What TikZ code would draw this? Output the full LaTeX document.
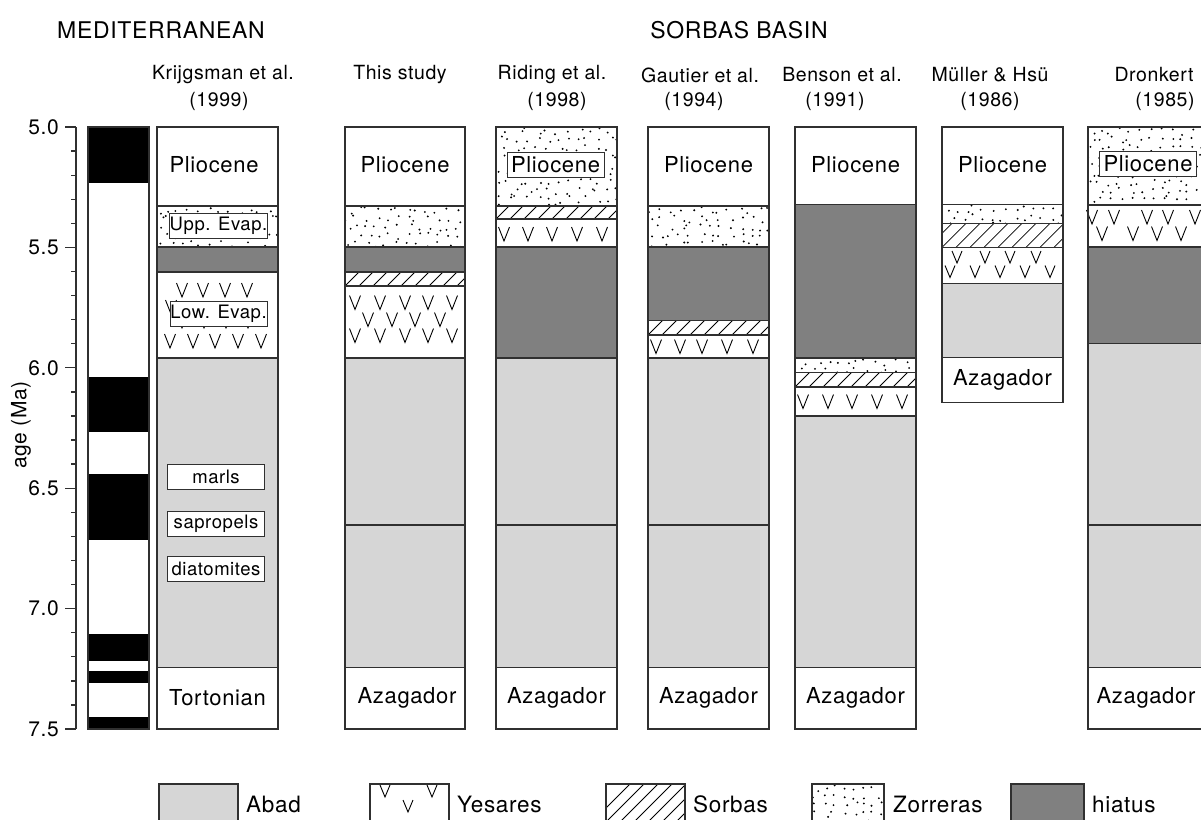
\documentclass[tikz,border=0pt]{standalone}
\usepackage{fontspec}
\setmainfont{TeX Gyre Heros}[LetterSpace=3]
\definecolor{abadc}{HTML}{D6D6D6}
\definecolor{hiatc}{HTML}{808080}
\definecolor{edgec}{HTML}{303030}
\tikzset{
  edge/.style={draw=edgec, line width=1.3pt},
  hatchline/.style={draw=black, line width=0.8pt},
  vline/.style={draw=black, line width=0.9pt, line join=miter},
  lab/.style={font=\fontsize{22}{24}\selectfont, inner sep=0pt},
  head/.style={font=\fontsize{19.5}{22}\selectfont, inner sep=0pt},
  titl/.style={font=\fontsize{23}{26}\selectfont, inner sep=0pt},
  blab/.style={draw=edgec, fill=white, line width=0.9pt, minimum width=97pt, minimum height=25pt, inner sep=0pt, font=\fontsize{18.5}{20}\selectfont},
  plab/.style={draw=edgec, fill=white, line width=0.9pt, minimum width=97pt, minimum height=25pt, inner sep=0pt, font=\fontsize{22}{24}\selectfont},
  axn/.style={font=\fontsize{21}{22}\selectfont, anchor=east, inner sep=0pt},
  leg/.style={font=\fontsize{22.5}{24}\selectfont, anchor=base west, inner sep=0pt},
}
% jittered dots (Zorreras)
\newcommand\Zo[4]{%
  \begin{scope}
    \clip (#1,#2) rectangle (#3,#4);
    \pgfmathtruncatemacro\nr{(#4-#2)/8.5}%
    \pgfmathtruncatemacro\nc{(#3-#1)/10}%
    \foreach \j in {0,...,\nr}{%
      \foreach \i in {0,...,\nc}{%
        \pgfmathsetmacro\rx{#1+\i*10+rnd*9-2}%
        \pgfmathsetmacro\ry{#2+\j*8.5+rnd*7+1}%
        \fill[black] (\rx,\ry) circle (1.05);
      }
    }
  \end{scope}}
% diagonal hatching (Sorbas)
\newcommand\So[4]{%
  \begin{scope}
    \clip (#1,#2) rectangle (#3,#4);
    \pgfmathsetmacro\hh{#4-#2}
    \foreach \s in {-42,-28,...,140}{%
      \draw[hatchline] ({#1+\s},#4) -- ++(\hh,-\hh);
    }
  \end{scope}}
% V sign (Yesares)
\newcommand\vv[2]{\draw[vline] ({#1-5.5},{#2-7}) -- (#1,{#2+7}) -- ({#1+5.5},{#2-7});}
\newcommand\vs[2]{\draw[vline] ({#1-5},{#2-6}) -- (#1,{#2+6}) -- ({#1+5},{#2-6});}
\begin{document}
\begin{tikzpicture}[x=1pt,y=-1pt]
\useasboundingbox (0,0) rectangle (1201,819);
\clip (0,0) rectangle (1201,819);
\pgfmathsetseed{11}

% ---------- titles ----------
\node[titl] (tmed) at (161,30) {MEDITERRANEAN};
\node[titl] (tsor) at (739,30) {SORBAS BASIN};

% ---------- headings ----------
\node[head] (hk1) at (223,75) {Krijgsman et al.};
\node[head] (hk2) at (219,101) {(1999)};
\node[head] (ht1) at (400,75) {This study};
\node[head] (hr1) at (552,75) {Riding et al.};
\node[head] (hr2) at (557,101) {(1998)};
\node[head] (hg1) at (700,75) {Gautier et al.};
\node[head] (hg2) at (694,101) {(1994)};
\node[head] (hb1) at (842,75) {Benson et al.};
\node[head] (hb2) at (835,101) {(1991)};
\node[head] (hm1) at (990,75) {Müller \& Hsü};
\node[head] (hm2) at (990,101) {(1986)};
\node[head] (hd1) at (1154,75) {Dronkert};
\node[head] (hd2) at (1165,101) {(1985)};

% ---------- age axis ----------
\draw[edge] (76,127) -- (76,729);
\foreach \k in {0,...,25}{
  \pgfmathsetmacro\yy{127+\k*24.08}
  \pgfmathtruncatemacro\mm{mod(\k,5)}
  \ifnum\mm=0
    \draw[edge] (65,\yy) -- (76,\yy);
  \else
    \draw[edge] (71,\yy) -- (76,\yy);
  \fi
}
\node[axn] (a50) at (59,127) {5.0};
\node[axn] (a55) at (59,247.4) {5.5};
\node[axn] (a60) at (59,367.8) {6.0};
\node[axn] (a65) at (59,488.2) {6.5};
\node[axn] (a70) at (59,608.6) {7.0};
\node[axn] (a75) at (59,729) {7.5};
\node[font=\fontsize{21}{22}\selectfont, rotate=90, inner sep=0pt] (alab) at (21,425) {age (Ma)};

% ---------- magnetic polarity column ----------
\fill[white] (88,127) rectangle (149,729);
\foreach \a/\b in {127/183, 377/432, 474/540, 634/661, 671/683, 717/729}
  \fill[black] (88,\a) rectangle (149,\b);
\draw[edge] (88,127) rectangle (149,729);

% ---------- Krijgsman et al. (157-278) ----------
\fill[white] (157,127) rectangle (278,729);
\Zo{157}{206}{278}{247}
\fill[hiatc] (157,247) rectangle (278,272);
\foreach \x in {182,203,225,247} {\vv{\x}{290}}
\vv{171}{307}
\foreach \x in {182,204,226,248} {\vv{\x}{321}}
\foreach \x in {170,193,215,238,261} {\vv{\x}{341}}
\fill[abadc] (157,358) rectangle (278,667.6);
\foreach \y in {206,247,272,358,667.6} \draw[edge] (157,\y) -- (278,\y);
\draw[edge] (157,127) rectangle (278,729);
\node[lab] (kpl) at (214,165) {Pliocene};
\node[blab] (kupp) at (218.5,225.5) {Upp. Evap.};
\node[blab] (klow) at (218.5,313.5) {Low. Evap.};
\node[blab] (kmar) at (216,476.5) {marls};
\node[blab] (ksap) at (216,524) {sapropels};
\node[blab] (kdia) at (216,568.5) {diatomites};
\node[lab] (ktor) at (217.5,698) {Tortonian};

% ---------- This study (345-465) ----------
\fill[white] (345,127) rectangle (465,729);
\Zo{345}{206}{465}{247}
\fill[hiatc] (345,247) rectangle (465,272);
\So{345}{272}{465}{286}
\foreach \x in {355,380,405,428,452} {\vv{\x}{302.5}}
\foreach \x in {368,392,415,440} {\vv{\x}{319.5}}
\foreach \x in {355,380,405,428,452} {\vv{\x}{335.5}}
\fill[abadc] (345,358) rectangle (465,667.6);
\foreach \y in {206,247,272,286,358,525,667.6} \draw[edge] (345,\y) -- (465,\y);
\draw[edge] (345,127) rectangle (465,729);
\node[lab] (tpl) at (405,165) {Pliocene};
\node[lab] (taz) at (407,698) {Azagador};

% ---------- Riding et al. (496-617) ----------
\fill[white] (496,127) rectangle (617,729);
\Zo{496}{127}{617}{206}
\So{496}{206}{617}{219}
\foreach \x in {504,528,552,577,602} {\vv{\x}{234}}
\fill[hiatc] (496,247) rectangle (617,358);
\fill[abadc] (496,358) rectangle (617,667.6);
\foreach \y in {206,219,247,358,525,667.6} \draw[edge] (496,\y) -- (617,\y);
\draw[edge] (496,127) rectangle (617,729);
\node[plab] (rpl) at (555.5,165) {Pliocene};
\node[lab] (raz) at (556.5,698) {Azagador};

% ---------- Gautier et al. (648-769) ----------
\fill[white] (648,127) rectangle (769,729);
\Zo{648}{206}{769}{247}
\fill[hiatc] (648,247) rectangle (769,320.6);
\So{648}{320.6}{769}{335}
\foreach \x in {656,680,702,727,753} {\vv{\x}{346.5}}
\fill[abadc] (648,358) rectangle (769,667.6);
\foreach \y in {206,247,320.6,335,358,525,667.6} \draw[edge] (648,\y) -- (769,\y);
\draw[edge] (648,127) rectangle (769,729);
\node[lab] (gpl) at (708.5,165) {Pliocene};
\node[lab] (gaz) at (708.5,698) {Azagador};

% ---------- Benson et al. (795-916) ----------
\fill[white] (795,127) rectangle (916,729);
\fill[hiatc] (795,204.5) rectangle (916,358);
\Zo{795}{358}{916}{372.7}
\So{795}{372.7}{916}{387}
\foreach \x in {803,828,852,877,902} {\vv{\x}{401.5}}
\fill[abadc] (795,416) rectangle (916,667.6);
\foreach \y in {204.5,358,372.7,387,416,667.6} \draw[edge] (795,\y) -- (916,\y);
\draw[edge] (795,127) rectangle (916,729);
\node[lab] (bpl) at (855.5,165) {Pliocene};
\node[lab] (baz) at (855.5,698) {Azagador};

% ---------- Müller & Hsü (942-1063) ----------
\fill[white] (942,127) rectangle (1063,402.3);
\Zo{942}{204.5}{1063}{223.3}
\So{942}{223.3}{1063}{247.3}
\foreach \x in {957,985,1010,1036} {\vs{\x}{257}}
\foreach \x in {950,975,1000,1025,1050} {\vs{\x}{271.5}}
\fill[abadc] (942,283.3) rectangle (1063,357.7);
\foreach \y in {204.5,223.3,247.3,283.3,357.7} \draw[edge] (942,\y) -- (1063,\y);
\draw[edge] (942,127) rectangle (1063,402.3);
\node[lab] (mpl) at (1002.5,165) {Pliocene};
\node[lab] (maz) at (1002.5,380) {Azagador};

% ---------- Dronkert (1088-1209) ----------
\fill[white] (1088,127) rectangle (1209,729);
\Zo{1088}{127}{1209}{205}
\foreach \x in {1092,1114,1147,1168,1195} {\vv{\x}{217}}
\foreach \x in {1102,1133,1157,1181} {\vv{\x}{233.5}}
\fill[hiatc] (1088,247) rectangle (1209,343.3);
\fill[abadc] (1088,343.3) rectangle (1209,667.6);
\foreach \y in {205,247,343.3,525,667.6} \draw[edge] (1088,\y) -- (1209,\y);
\draw[edge] (1088,127) rectangle (1209,729);
\node[plab] (dpl) at (1148,164) {Pliocene};
\node[lab] (daz) at (1146,698) {Azagador};

% ---------- legend ----------
\fill[abadc] (159,784) rectangle (238,850);
\draw[edge] (159,784) rectangle (238,850);
\node[leg] (labad) at (246,812) {Abad};

\fill[white] (370,784) rectangle (449,850);
\vs{385}{791}
\vs{408}{806}
\vs{432}{791}
\draw[edge] (370,784) rectangle (449,850);
\node[leg] (lyes) at (457,812) {Yesares};

\fill[white] (606,784) rectangle (685,850);
\So{606}{784}{685}{850}
\draw[edge] (606,784) rectangle (685,850);
\node[leg] (lsor) at (693,812) {Sorbas};

\fill[white] (812,784) rectangle (884,850);
\Zo{812}{784}{884}{850}
\draw[edge] (812,784) rectangle (884,850);
\node[leg] (lzor) at (893,812) {Zorreras};

\fill[hiatc] (1011,784) rectangle (1084,850);
\draw[edge] (1011,784) rectangle (1084,850);
\node[leg] (lhia) at (1092,812) {hiatus};
\end{tikzpicture}
\end{document}
